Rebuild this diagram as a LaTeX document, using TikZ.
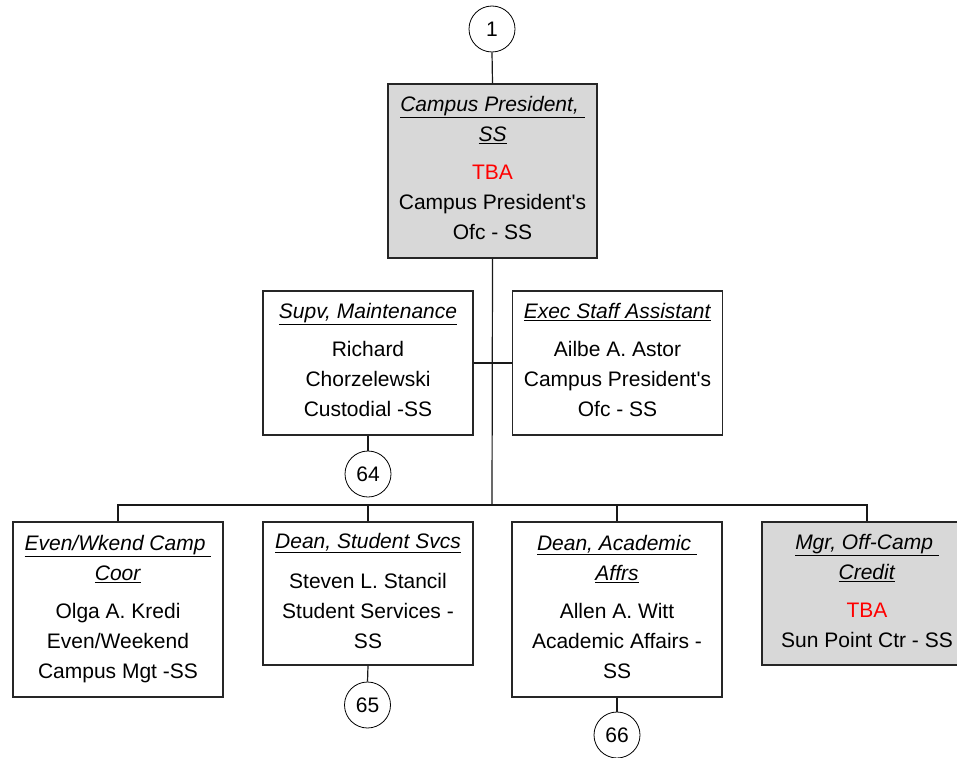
\documentclass[tikz,border=0pt]{standalone}
\usepackage{fontspec}
\setmainfont{Liberation Sans}
\newcommand\postitle[1]{\underline{\textit{#1}}}
\newcommand\liftup{\\[-24pt]\mbox{}}
\definecolor{boxgray}{RGB}{216,216,216}
\definecolor{tbared}{RGB}{255,0,0}
\begin{document}
\begin{tikzpicture}[x=1pt,y=-1pt,
  orgbox/.style={draw=black!85, line width=1.3pt, minimum width=210, align=center, inner sep=0pt,
    font=\fontsize{21}{30}\selectfont},
  grayfill/.style={fill=boxgray},
  pagecirc/.style={draw, circle, line width=0.8pt, minimum size=46, inner sep=0pt,
    font=\fontsize{21}{25}\selectfont},
  conn/.style={line width=1.2pt, black!90}]
\useasboundingbox (0,0) rectangle (957,757);
\clip (0,0) rectangle (957,757);

\node[pagecirc] (c1) at (492,29) {1};
\node[orgbox, grayfill, minimum width=209, minimum height=174] (pres) at (492.5,171)
  {\postitle{Campus President,\ }\\ \postitle{SS}\\[8pt] \textcolor{tbared}{TBA}\\ Campus President\textquotesingle s\\ Ofc - SS\liftup};

\node[orgbox, minimum height=144] (supv) at (368,363)
  {\postitle{Supv, Maintenance}\\[8pt] Richard\\ Chorzelewski\\ Custodial -SS\liftup};
\node[orgbox, minimum height=144] (exec) at (617.5,363)
  {\postitle{Exec Staff Assistant}\\[8pt] Ailbe A. Astor\\ Campus President\textquotesingle s\\ Ofc - SS\liftup};
\node[pagecirc] (c64) at (368,474) {64};

\node[orgbox, minimum height=175] (b1) at (118,609.5)
  {\postitle{Even/Wkend Camp\ }\\ \postitle{Coor}\\[8pt] Olga A. Kredi\\ Even/Weekend\\ Campus Mgt -SS\liftup};
\node[orgbox, minimum height=143] (b2) at (368,593.5)
  {\postitle{Dean, Student Svcs}\\[10pt] Steven L. Stancil\\ Student Services -\\ SS\liftup};
\node[orgbox, minimum height=175] (b3) at (617,609.5)
  {\postitle{Dean, Academic\ }\\ \postitle{Affrs}\\[8pt] Allen A. Witt\\ Academic Affairs -\\ SS\liftup};
\node[orgbox, grayfill, minimum height=143] (b4) at (867,593.5)
  {\postitle{Mgr, Off-Camp\ }\\ \postitle{Credit}\\[8pt] \textcolor{tbared}{TBA}\\ Sun Point Ctr - SS\liftup};
\node[pagecirc] (c65) at (367.5,705) {65};
\node[pagecirc] (c66) at (617,735) {66};

\coordinate (bus) at (492,505);
\draw[conn] (c1.south) -- (pres.north);
\draw[conn] (pres.south) -- (bus);
\draw[conn] (supv.east) -- (exec.west);
\draw[conn] (supv.south) -- (c64.north);
\draw[conn] (b1.north) -- (b1.north |- bus) -- (b4.north |- bus) -- (b4.north);
\draw[conn] (b2.north) -- (b2.north |- bus);
\draw[conn] (b3.north) -- (b3.north |- bus);
\draw[conn] (b2.south) -- (c65.north);
\draw[conn] (b3.south) -- (c66.north);
\end{tikzpicture}
\end{document}
